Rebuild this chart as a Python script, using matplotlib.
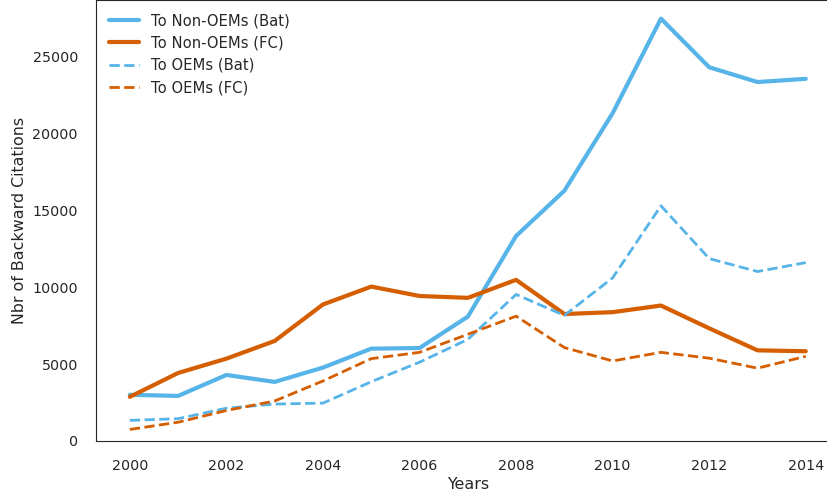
import matplotlib
matplotlib.use("Agg")
import matplotlib.pyplot as plt
import seaborn as sns

years = list(range(2000, 2015))
non_oem_bat = [3000, 2930, 4290, 3840, 4770, 6000, 6040, 8080, 13320, 16260, 21300, 27440, 24280, 23320, 23530]
non_oem_fc = [2870, 4420, 5350, 6500, 8870, 10030, 9420, 9300, 10470, 8250, 8370, 8800, 7320, 5890, 5830]
oem_bat = [1340, 1450, 2130, 2400, 2460, 3850, 5120, 6600, 9520, 8160, 10600, 15280, 11850, 11010, 11590]
oem_fc = [750, 1220, 1980, 2600, 3900, 5350, 5760, 6930, 8110, 6070, 5200, 5760, 5380, 4730, 5500]

blue = "#56B4E9"
orange = "#D55E00"

sns.set_style("white")
plt.rcParams["font.family"] = ["DejaVu Sans"]

fig = plt.figure(figsize=(8.28, 5.0), dpi=100)
ax = fig.add_axes([0.116, 0.118, 0.898, 0.882])

ax.plot(years, non_oem_bat, color=blue, lw=3, label="To Non-OEMs (Bat)")
ax.plot(years, non_oem_fc, color=orange, lw=3, label="To Non-OEMs (FC)")
ax.plot(years, oem_bat, color=blue, lw=2, ls="--", label="To OEMs (Bat)")
ax.plot(years, oem_fc, color=orange, lw=2, ls="--", label="To OEMs (FC)")

ax.set_xlim(1999.3, 2014.7)
ax.set_ylim(0, 28650)
ax.set_xticks(range(2000, 2015, 2))
ax.set_yticks(range(0, 25001, 5000))
ax.tick_params(labelsize=10.3, colors=".15", pad=9.5)
ax.set_xlabel("Years", fontsize=11.4, labelpad=3)
ax.set_ylabel("Nbr of Backward Citations", fontsize=11.4, labelpad=4)

ax.legend(loc="upper left", frameon=False, fontsize=10.6)

fig.savefig("out.png", dpi=100)
